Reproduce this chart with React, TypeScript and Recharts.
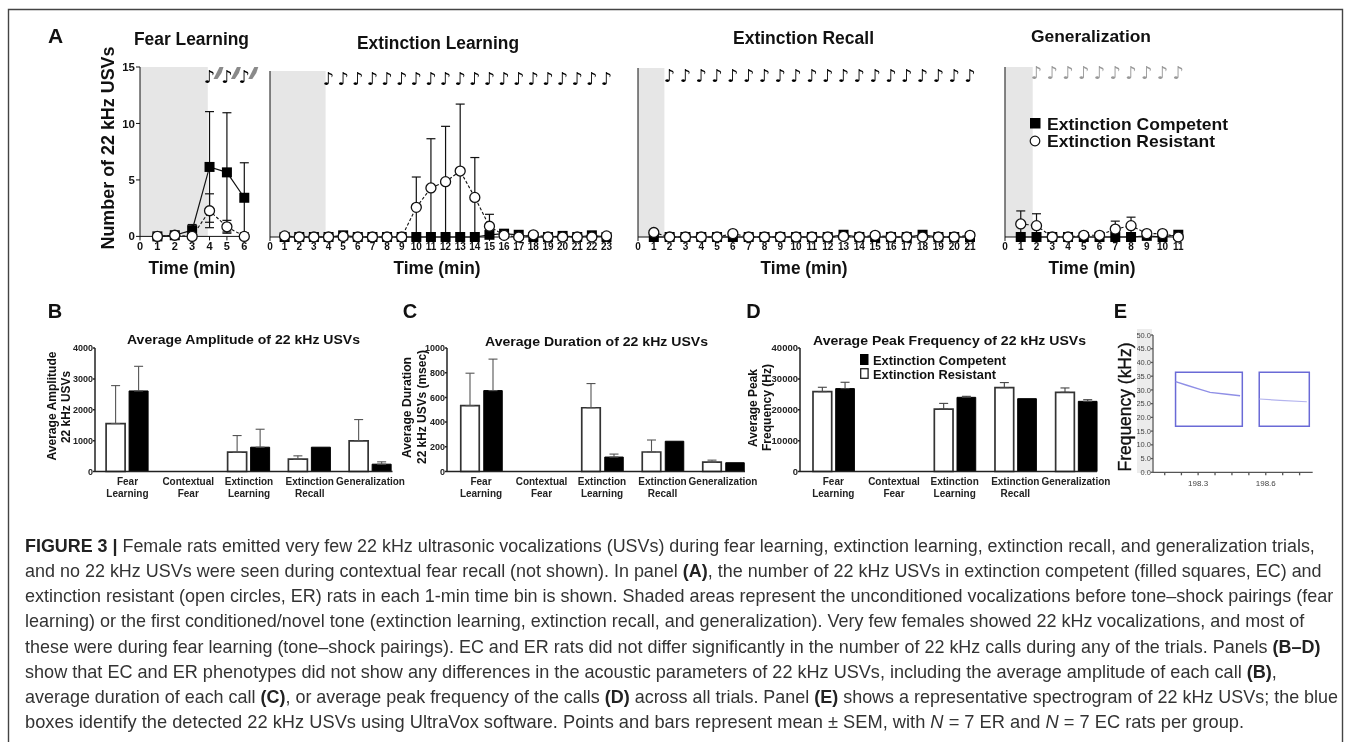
import React from 'react';
import { ComposedChart, BarChart, Bar, Line, XAxis, YAxis, ErrorBar, ReferenceArea } from 'recharts';

const FONT = '"Liberation Sans", Arial, sans-serif';

// Panel A: time courses
const flTimes = [1, 2, 3, 4, 5, 6];
const flEC = [0, 0.1, 0.55, 6.15, 5.67, 3.42];
const flECErr = [0, 0.15, 0.5, 4.9, 5.28, 3.1];
const flER = [0, 0.1, 0, 2.27, 0.85, 0];
const flERErr = [0, 0.1, 0, 1.5, 0.57, 0];
const flNotes = [4, 5, 6];

const elTimes = [1, 2, 3, 4, 5, 6, 7, 8, 9, 10, 11, 12, 13, 14, 15, 16, 17, 18, 19, 20, 21, 22, 23];
const elEC = [0, 0, 0, 0, 0.15, 0, 0, 0, 0, 0, 0, 0, 0, 0, 0.2, 0.3, 0.2, 0, 0, 0.1, 0, 0.15, 0];
const elECErr = [0, 0, 0, 0, 0, 0, 0, 0, 0, 0, 0, 0, 0, 0, 0.3, 0, 0, 0, 0, 0, 0, 0, 0];
const elER = [0.1, 0, 0, 0, 0.05, 0, 0, 0, 0, 2.68, 4.43, 5, 5.96, 3.58, 0.97, 0.15, 0, 0.2, 0, 0, 0, 0, 0.1];
const elERErr = [0, 0, 0, 0, 0, 0, 0, 0, 0, 2.74, 4.45, 5, 6.05, 3.6, 1.08, 0.3, 0, 0, 0, 0, 0, 0, 0];
const elNotes = [4, 5, 6, 7, 8, 9, 10, 11, 12, 13, 14, 15, 16, 17, 18, 19, 20, 21, 22, 23];

const erTimes = [1, 2, 3, 4, 5, 6, 7, 8, 9, 10, 11, 12, 13, 14, 15, 16, 17, 18, 19, 20, 21];
const erEC = [0, 0, 0, 0, 0, 0, 0, 0, 0, 0, 0, 0, 0.2, 0, 0, 0, 0, 0.2, 0, 0, 0];
const erECErr = [0, 0, 0, 0, 0, 0, 0, 0, 0, 0, 0, 0, 0, 0, 0, 0, 0, 0, 0, 0, 0];
const erER = [0.4, 0, 0, 0, 0, 0.3, 0, 0, 0, 0, 0, 0, 0.05, 0, 0.15, 0, 0, 0, 0, 0, 0.15];
const erERErr = [0, 0, 0, 0, 0, 0, 0, 0, 0, 0, 0, 0, 0, 0, 0, 0, 0, 0, 0, 0, 0];
const erNotes = [2, 3, 4, 5, 6, 7, 8, 9, 10, 11, 12, 13, 14, 15, 16, 17, 18, 19, 20, 21];

const geTimes = [1, 2, 3, 4, 5, 6, 7, 8, 9, 10, 11];
const geEC = [0, 0, 0, 0, 0, 0, 0, 0, 0.1, 0, 0.2];
const geECErr = [0, 0, 0, 0, 0, 0, 0, 0, 0, 0, 0];
const geER = [1.15, 1, 0, 0, 0.15, 0.15, 0.7, 1, 0.3, 0.3, 0];
const geERErr = [1.15, 1.05, 0, 0, 0.1, 0.1, 0.7, 0.75, 0.1, 0.1, 0];
const geNotes = [2, 3, 4, 5, 6, 7, 8, 9, 10, 11];

const usvTicks = [0, 5, 10, 15];

// Panels B-D: bars
const barCategories = ['Fear|Learning', 'Contextual|Fear', 'Extinction|Learning', 'Extinction|Recall', 'Generalization'];

const ampER = [1553, null, 625, 400, 992];
const ampERUpper = [2782, null, 1164, 507, 1682];
const ampEC = [2609, null, 787, 787, 237];
const ampECUpper = [3407, null, 1369, null, 313];
const ampTicks = [0, 1000, 2000, 3000, 4000];

const durER = [533, null, 516, 158, 76];
const durERUpper = [796, null, 712, 255, 92];
const durEC = [655, null, 117, 245, 71];
const durECUpper = [910, null, 141, null, null];
const durTicks = [0, 200, 400, 600, 800, 1000];

const peakER = [25870, null, 20220, 27170, 25650];
const peakERUpper = [27280, null, 22060, 28800, 27060];
const peakEC = [26850, null, 24020, 23590, 22720];
const peakECUpper = [28900, null, 24350, null, 23260];
const peakTicks = [0, 10000, 20000, 30000, 40000];

// Panel E: spectrogram traces
const sweepTimes = [198.2, 198.25, 198.309, 198.353, 198.427, 198.486, 198.572, 198.663, 198.782];
const sweepOne = [33, 31.7, 30.2, 29.1, 28.4, 27.9, null, null, null];
const sweepTwo = [null, null, null, null, null, null, 26.7, 26.2, 25.7];
const specFreqTicks = [0, 5, 10, 15, 20, 25, 30, 35, 40, 45, 50];
const specTimeTicks = [198.152, 198.226, 198.3, 198.375, 198.45, 198.525, 198.6, 198.675, 198.75];
const specLabelled = [198.3, 198.6];
const detectionBoxes = [
  { from: 198.2, to: 198.496, low: 16.75, high: 36.4 },
  { from: 198.571, to: 198.793, low: 16.75, high: 36.4 },
];

type Seg = { t: string; b?: boolean; i?: boolean };
const captionLines: { segs: Seg[]; end: number }[] = [
  { end: 1316, segs: [{ t: 'FIGURE 3 | ', b: true }, { t: 'Female rats emitted very few 22 kHz ultrasonic vocalizations (USVs) during fear learning, extinction learning, extinction recall, and generalization trials,' }] },
  { end: 1323, segs: [{ t: 'and no 22 kHz USVs were seen during contextual fear recall (not shown). In panel ' }, { t: '(A)', b: true }, { t: ', the number of 22 kHz USVs in extinction competent (filled squares, EC) and' }] },
  { end: 1334, segs: [{ t: 'extinction resistant (open circles, ER) rats in each 1-min time bin is shown. Shaded areas represent the unconditioned vocalizations before tone–shock pairings (fear' }] },
  { end: 1305, segs: [{ t: 'learning) or the first conditioned/novel tone (extinction learning, extinction recall, and generalization). Very few females showed 22 kHz vocalizations, and most of' }] },
  { end: 1321, segs: [{ t: 'these were during fear learning (tone–shock pairings). EC and ER rats did not differ significantly in the number of 22 kHz calls during any of the trials. Panels ' }, { t: '(B–D)', b: true }] },
  { end: 1278, segs: [{ t: 'show that EC and ER phenotypes did not show any differences in the acoustic parameters of 22 kHz USVs, including the average amplitude of each call ' }, { t: '(B)', b: true }, { t: ',' }] },
  { end: 1339, segs: [{ t: 'average duration of each call ' }, { t: '(C)', b: true }, { t: ', or average peak frequency of the calls ' }, { t: '(D)', b: true }, { t: ' across all trials. Panel ' }, { t: '(E)', b: true }, { t: ' shows a representative spectrogram of 22 kHz USVs; the blue' }] },
  { end: 1245, segs: [{ t: 'boxes identify the detected 22 kHz USVs using UltraVox software. Points and bars represent mean ± SEM, with ' }, { t: 'N', i: true }, { t: ' = 7 ER and ' }, { t: 'N', i: true }, { t: ' = 7 EC rats per group.' }] },
];

const CAPTION_SIZE = 18;
const measureCtx = typeof document !== 'undefined' ? document.createElement('canvas').getContext('2d') : null;
function captionWidth(segs: Seg[]) {
  if (!measureCtx) return 1;
  return segs.reduce((sum, s) => {
    measureCtx.font = `${s.i ? 'italic ' : ''}${s.b ? '700 ' : '400 '}${CAPTION_SIZE}px "Liberation Sans"`;
    return sum + measureCtx.measureText(s.t).width;
  }, 0);
}

const bound = (v: number, e: number) => (e > 0 ? [Math.min(v, e), e] : null);

function timeRows(times: number[], ec: number[], ecE: number[], er: number[], erE: number[], notes: number[], level: number) {
  return times.map((x, i) => ({
    x,
    ec: ec[i],
    ecE: bound(ec[i], ecE[i]),
    er: er[i],
    erE: bound(er[i], erE[i]),
    note: notes.includes(x) ? level : null,
  }));
}

const SquareDot = (p: any) => (p.cy == null ? <g key={p.key} /> : <rect key={p.key} x={p.cx - 5} y={p.cy - 5} width={10} height={10} fill="#000" />);
const CircleDot = (p: any) => (p.cy == null ? <g key={p.key} /> : <circle key={p.key} cx={p.cx} cy={p.cy} r={5} fill="#fff" stroke="#111" strokeWidth={1.3} />);

const makeNote = (color: string, shock: boolean) => (p: any) => {
  if (p.cy == null) return <g key={p.key} />;
  return (
    <g key={p.key}>
      {shock ? (
        <polygon points={`${p.cx + 4},${p.cy + 3} ${p.cx + 10},${p.cy - 9} ${p.cx + 14},${p.cy - 9} ${p.cx + 12},${p.cy - 3} ${p.cx + 8},${p.cy + 3}`} fill="#8a8a8a" />
      ) : null}
      <text x={p.cx} y={p.cy + 6.5} textAnchor="middle" fontSize={18} fontFamily='"DejaVu Sans"' fill={color}>♪</text>
    </g>
  );
};

type TimeProps = {
  rows: any[]; left: number; right: number; top: number; maxT: number; shade: number;
  yLabels?: boolean; noteColor?: string; shock?: boolean; tickSize?: number;
};

function TimePanel({ rows, left, right, top, maxT, shade, yLabels, noteColor = '#000', shock, tickSize = 10 }: TimeProps) {
  const bottom = 236.7;
  const axisW = 40;
  const ticks: number[] = [];
  for (let t = 0; t <= maxT; t++) ticks.push(t);
  const style = { fontSize: tickSize, fontWeight: 700, fontFamily: FONT, fill: '#111' };
  return (
    <div style={{ position: 'absolute', left: left - axisW, top: top - 20 }}>
      <ComposedChart
        width={right - left + axisW + 25}
        height={bottom - top + 20 + 30}
        data={rows}
        margin={{ top: 20, right: 25, bottom: 0, left: 0 }}
      >
        <XAxis dataKey="x" type="number" domain={[0, maxT]} ticks={ticks} interval={0} height={30}
          tick={style} tickSize={4} tickMargin={2} stroke="#111" allowDecimals={false} />
        <YAxis type="number" domain={[0, 15]} ticks={usvTicks} width={axisW} interval={0}
          tick={yLabels ? { ...style, fontSize: 11.5 } : false} tickSize={4} tickMargin={1} stroke="#111" />
        <ReferenceArea x1={0} x2={shade} y1={0} y2={15} fill="#e6e6e6" fillOpacity={1} stroke="none" />
        <Line dataKey="note" stroke="none" isAnimationActive={false} dot={makeNote(noteColor, !!shock)} activeDot={false} legendType="none" />
        <Line dataKey="ec" stroke="#111" strokeWidth={1.2} isAnimationActive={false} dot={SquareDot} activeDot={false}>
          <ErrorBar dataKey="ecE" direction="y" width={4.5} stroke="#111" strokeWidth={1.2} isAnimationActive={false} />
        </Line>
        <Line dataKey="er" stroke="#111" strokeWidth={1.1} strokeDasharray="3 2" isAnimationActive={false} dot={CircleDot} activeDot={false}>
          <ErrorBar dataKey="erE" direction="y" width={4.5} stroke="#111" strokeWidth={1.2} isAnimationActive={false} />
        </Line>
      </ComposedChart>
    </div>
  );
}

const CategoryTick = (p: any) => {
  const parts = String(p.payload.value).split('|');
  return (
    <g>
      {parts.map((s, i) => (
        <text key={i} x={p.x} y={p.y + 5 + i * 12} textAnchor="middle" fontSize={10} fontWeight={700} fontFamily={FONT} fill="#222">{s}</text>
      ))}
    </g>
  );
};

type BarProps = {
  left: number; right: number; max: number; ticks: number[];
  white: (number | null)[]; whiteUp: (number | null)[]; black: (number | null)[]; blackUp: (number | null)[];
  padL: number; padR: number; errColor: string; barSize: number; barGap: number; tickFont?: number;
};

function BarPanel({ left, right, max, ticks, white, whiteUp, black, blackUp, padL, padR, errColor, barSize, barGap, tickFont = 9 }: BarProps) {
  const top = 347.5;
  const bottom = 471;
  const axisW = 45;
  const offset = (v: number | null, u: number | null) => (v != null && u != null ? [0, u - v] : null);
  const rows = barCategories.map((c, i) => ({
    c, white: white[i], black: black[i], whiteE: offset(white[i], whiteUp[i]), blackE: offset(black[i], blackUp[i]),
  }));
  return (
    <div style={{ position: 'absolute', left: left - axisW, top: top - 15 }}>
      <BarChart
        width={right - left + axisW + 20}
        height={bottom - top + 15 + 35}
        data={rows}
        barSize={barSize}
        barGap={barGap}
        margin={{ top: 15, right: 20, bottom: 0, left: 0 }}
      >
        <XAxis dataKey="c" height={35} interval={0} tick={CategoryTick} tickLine={false} stroke="#222" strokeWidth={1.5}
          padding={{ left: padL, right: padR }} />
        <YAxis type="number" domain={[0, max]} ticks={ticks} width={axisW} interval={0} tickSize={2} tickMargin={0}
          stroke="#222" strokeWidth={1.5}
          tick={{ fontSize: tickFont, fontWeight: 700, fontFamily: FONT, fill: '#222' }} />
        <Bar dataKey="white" fill="#fff" stroke="#333" strokeWidth={1.7} isAnimationActive={false}>
          <ErrorBar dataKey="whiteE" direction="y" width={4.5} stroke={errColor} strokeWidth={1.1} isAnimationActive={false} />
        </Bar>
        <Bar dataKey="black" fill="#000" stroke="#000" strokeWidth={1} isAnimationActive={false}>
          <ErrorBar dataKey="blackE" direction="y" width={4.5} stroke={errColor} strokeWidth={1.1} isAnimationActive={false} />
        </Bar>
      </BarChart>
    </div>
  );
}

function SpectrogramPanel() {
  const left = 1153, right = 1312.7, top = 335, bottom = 472.3;
  const axisW = 16;
  const rows = sweepTimes.map((t, i) => ({ t, a: sweepOne[i], b: sweepTwo[i] }));
  const tick = { fontSize: 7.5, fontFamily: FONT, fill: '#444' };
  return (
    <div style={{ position: 'absolute', left: left - axisW, top: top - 6 }}>
      <ComposedChart width={right - left + axisW} height={bottom - top + 6 + 22} data={rows}
        margin={{ top: 6, right: 0, bottom: 0, left: 0 }}>
        <XAxis dataKey="t" type="number" domain={[198.1, 198.808]} ticks={specTimeTicks} interval={0} height={22}
          tickFormatter={(v: number) => (specLabelled.includes(v) ? v.toFixed(1) : '')}
          tick={{ ...tick, fontSize: 8 }} tickSize={3} tickMargin={5} stroke="#555" strokeWidth={1.3} />
        <YAxis type="number" domain={[0, 50]} ticks={specFreqTicks} width={axisW} interval={0}
          tickFormatter={(v: number) => v.toFixed(1)} tick={tick} tickSize={2} tickMargin={0} stroke="#555" strokeWidth={1.3} />
        {detectionBoxes.map((b, i) => (
          <ReferenceArea key={i} x1={b.from} x2={b.to} y1={b.low} y2={b.high} fill="none" stroke="#6a6ad6" strokeWidth={1.5} />
        ))}
        <Line dataKey="a" stroke="#8f8fe6" strokeWidth={1.4} dot={false} activeDot={false} isAnimationActive={false} />
        <Line dataKey="b" stroke="#b4b4ee" strokeWidth={1.2} dot={false} activeDot={false} isAnimationActive={false} />
      </ComposedChart>
    </div>
  );
}

function Label({ x, y, w, size, text, rotate, weight = 700, fill = '#111', anchor = 'middle' }: any) {
  return (
    <text x={x} y={y} fontFamily={FONT} fontWeight={weight} fontSize={size} fill={fill} textAnchor={anchor}
      textLength={w} lengthAdjust="spacingAndGlyphs" transform={rotate ? `rotate(-90 ${x} ${y})` : undefined}>{text}</text>
  );
}

function Overlay() {
  return (
    <svg width={1357} height={742} style={{ position: 'absolute', left: 0, top: 0, pointerEvents: 'none' }}>
      <path d="M8.5 742 V9.5 H1342.5 V742" fill="none" stroke="#444" strokeWidth={1.4} />

      <Label x={55.5} y={43} size={21} text="A" />
      <Label x={55} y={318} size={20} text="B" />
      <Label x={410} y={318} size={20} text="C" />
      <Label x={753.5} y={318} size={20} text="D" />
      <Label x={1120.5} y={318} size={20} text="E" />

      <Label x={191.5} y={45} size={17.5} w={115} text="Fear Learning" />
      <Label x={438} y={49} size={17.5} w={162} text="Extinction Learning" />
      <Label x={803.5} y={44} size={17.5} w={141} text="Extinction Recall" />
      <Label x={1091} y={42} size={17} w={120} text="Generalization" />

      <Label x={192} y={274} size={18} w={87} text="Time (min)" />
      <Label x={437} y={274} size={18} w={87} text="Time (min)" />
      <Label x={804} y={274} size={18} w={87} text="Time (min)" />
      <Label x={1092} y={274} size={18} w={87} text="Time (min)" />
      <Label x={113.5} y={148} size={18.5} w={203} rotate text="Number of 22 kHz USVs" />

      <rect x={1030} y={118} width={10.5} height={10.5} fill="#000" />
      <circle cx={1035} cy={141} r={4.8} fill="#fff" stroke="#111" strokeWidth={1.2} />
      <Label x={1047} y={129.5} size={17} w={181} anchor="start" text="Extinction Competent" />
      <Label x={1047} y={146.5} size={17} w={168} anchor="start" text="Extinction Resistant" />

      <Label x={243.5} y={344} size={13.5} w={233} text="Average Amplitude of 22 kHz USVs" />
      <Label x={596.5} y={346} size={13.5} w={223} text="Average Duration of 22 kHz USVs" />
      <Label x={949.5} y={345} size={13.5} w={273} text="Average Peak Frequency of 22 kHz USVs" />

      <Label x={56} y={406} size={12.5} w={109} rotate text="Average Amplitude" />
      <Label x={70} y={407} size={12.5} w={72} rotate text="22 kHz USVs" />
      <Label x={411} y={407.5} size={12.5} w={101} rotate text="Average Duration" />
      <Label x={426} y={407} size={12.5} w={114} rotate text="22 kHz USVs (msec)" />
      <Label x={757} y={408} size={12.5} w={78} rotate text="Average Peak" />
      <Label x={771} y={407.5} size={12.5} w={87} rotate text="Frequency (Hz)" />

      <rect x={860} y={354} width={8.5} height={11} fill="#000" />
      <rect x={860.7} y={368.7} width={7.4} height={9.6} fill="#fff" stroke="#222" strokeWidth={1.3} />
      <Label x={873} y={364.5} size={13.5} w={133} anchor="start" text="Extinction Competent" />
      <Label x={873} y={378.5} size={13.5} w={123} anchor="start" text="Extinction Resistant" />

      <text x={1131} y={407} fontFamily={FONT} fontSize={18} fontWeight={400} stroke="#111" strokeWidth={0.35} fill="#111"
        textAnchor="middle" textLength={129} lengthAdjust="spacingAndGlyphs" transform="rotate(-90 1131 407)">Frequency (kHz)</text>

      {captionLines.map((l, i) => (
        <text key={i} transform={`translate(25 ${551.7 + i * 25.2}) scale(${(l.end - 25) / captionWidth(l.segs)} 1)`}
          fontFamily={FONT} fontSize={CAPTION_SIZE} fill="#333">
          {l.segs.map((s, j) => (
            <tspan key={j} fontWeight={s.b ? 700 : 400} fontStyle={s.i ? 'italic' : 'normal'} fill={s.b ? '#222' : '#333'}>{s.t}</tspan>
          ))}
        </text>
      ))}
    </svg>
  );
}

const flRows = timeRows(flTimes, flEC, flECErr, flER, flERErr, flNotes, 14.2);
const elRows = timeRows(elTimes, elEC, elECErr, elER, elERErr, elNotes, 14.35);
const erRows = timeRows(erTimes, erEC, erECErr, erER, erERErr, erNotes, 14.3);
const geRows = timeRows(geTimes, geEC, geECErr, geER, geERErr, geNotes, 14.5);

export default function App() {
  return (
    <div style={{ position: 'absolute', left: 0, top: 0, width: 1357, height: 742, background: '#fff', overflow: 'hidden', filter: 'blur(0.35px)' }}>
      <div style={{ position: 'absolute', left: 1137, top: 329, width: 15, height: 144, background: '#ececec' }} />
      <TimePanel rows={flRows} left={140} right={244.3} top={67.3} maxT={6} shade={3.9} yLabels shock tickSize={11} />
      <TimePanel rows={elRows} left={269.5} right={606} top={70.7} maxT={23} shade={3.8} />
      <TimePanel rows={erRows} left={638} right={970} top={67.7} maxT={21} shade={1.67} />
      <TimePanel rows={geRows} left={1004.7} right={1178} top={66.7} maxT={11} shade={1.76} noteColor="#999" />
      <BarPanel left={94.5} right={392} max={4000} ticks={ampTicks} white={ampER} whiteUp={ampERUpper} black={ampEC} blackUp={ampECUpper}
        padL={2.1} padR={-8.4} errColor="#555" barSize={19} barGap={4} />
      <BarPanel left={447} right={745} max={1000} ticks={durTicks} white={durER} whiteUp={durERUpper} black={durEC} blackUp={durECUpper}
        padL={3.75} padR={-8.25} errColor="#555" barSize={18.5} barGap={4.5} />
      <BarPanel left={800} right={1097} max={40000} ticks={peakTicks} white={peakER} whiteUp={peakERUpper} black={peakEC} blackUp={peakECUpper}
        padL={3} padR={-9.3} errColor="#444" barSize={18.7} barGap={4} tickFont={9.5} />
      <SpectrogramPanel />
      <Overlay />
    </div>
  );
}
